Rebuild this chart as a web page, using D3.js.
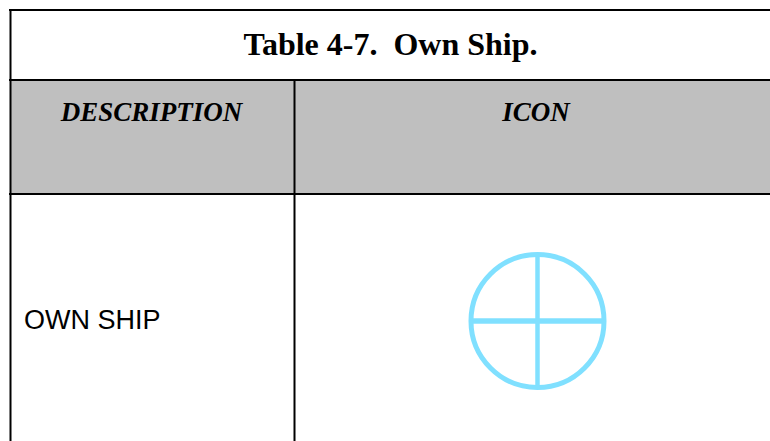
<!DOCTYPE html>
<html>
<head>
<meta charset="utf-8">
<script src="https://cdnjs.cloudflare.com/ajax/libs/d3/7.8.5/d3.min.js"></script>
<style>
  html, body { margin: 0; padding: 0; background: #fff; overflow: hidden; }
  svg { display: block; }
  .serif { font-family: "Liberation Serif", serif; fill: #000; }
  .sans { font-family: "Liberation Sans", sans-serif; fill: #000; }
</style>
</head>
<body>
<div id="viz"></div>
<script>
// table content
let title = ["Table 4-7.  Own Ship."];
let headers = ["DESCRIPTION", "ICON"];
let rowLabels = ["OWN SHIP"];

// column and row edges of the table
let columnEdges = [0, 1, 2];
let rowEdges = ["top", "title", "header", "bottom"];

let w = 770, h = 441;

let x = d3.scaleLinear().domain([0, 1, 2]).range([10.5, 294.5, 770]);
let y = d3.scaleOrdinal().domain(rowEdges).range([10, 80, 194, 441]);

let svg = d3.select("#viz").append("svg")
  .attr("width", w)
  .attr("height", h);

// grey header band
svg.selectAll("rect.head")
  .data(headers)
  .enter()
  .append("rect")
  .attr("class", "head")
  .attr("x", function(d, i) { return x(i); })
  .attr("y", y("title"))
  .attr("width", function(d, i) { return x(i + 1) - x(i); })
  .attr("height", y("header") - y("title"))
  .attr("fill", "#bfbfbf");

// horizontal rules
svg.selectAll("line.hrule")
  .data(rowEdges.slice(0, 3))
  .enter()
  .append("line")
  .attr("class", "hrule")
  .attr("x1", x(0) - 1.5)
  .attr("x2", x(2))
  .attr("y1", function(d) { return y(d); })
  .attr("y2", function(d) { return y(d); })
  .attr("stroke", "#000")
  .attr("stroke-width", 2);

// left border runs the whole height, the column rule starts under the title
svg.selectAll("line.vrule")
  .data(columnEdges.slice(0, 2))
  .enter()
  .append("line")
  .attr("class", "vrule")
  .attr("x1", function(d) { return x(d); })
  .attr("x2", function(d) { return x(d); })
  .attr("y1", function(d) { return d === 0 ? y("top") : y("title"); })
  .attr("y2", y("bottom"))
  .attr("stroke", "#000")
  .attr("stroke-width", 2);

// title
svg.selectAll("text.title")
  .data(title)
  .enter()
  .append("text")
  .attr("class", "title serif")
  .attr("x", 390.5)
  .attr("y", 55)
  .attr("text-anchor", "middle")
  .attr("font-size", 32)
  .attr("font-weight", "bold")
  .style("white-space", "pre")
  .text(function(d) { return d; });

// column headers
svg.selectAll("text.header")
  .data(headers)
  .enter()
  .append("text")
  .attr("class", "header serif")
  .attr("x", function(d, i) { return i === 0 ? 151.5 : 536; })
  .attr("y", 121)
  .attr("text-anchor", "middle")
  .attr("font-size", 27)
  .attr("font-weight", "bold")
  .attr("font-style", "italic")
  .text(function(d) { return d; });

// row label
svg.selectAll("text.row")
  .data(rowLabels)
  .enter()
  .append("text")
  .attr("class", "row sans")
  .attr("x", 24)
  .attr("y", 329)
  .attr("font-size", 27)
  .text(function(d) { return d; });

// own ship icon
let icon = svg.append("g")
  .attr("transform", "translate(537.5,321)");

let iconColor = "#80e0ff";
let r = 66.5;

icon.append("circle")
  .attr("r", r)
  .attr("fill", "none")
  .attr("stroke", iconColor)
  .attr("stroke-width", 5);

icon.append("line")
  .attr("x1", -r).attr("x2", r)
  .attr("stroke", iconColor)
  .attr("stroke-width", 5.5);

icon.append("line")
  .attr("y1", -r).attr("y2", r)
  .attr("stroke", iconColor)
  .attr("stroke-width", 4.5);
</script>
</body>
</html>
